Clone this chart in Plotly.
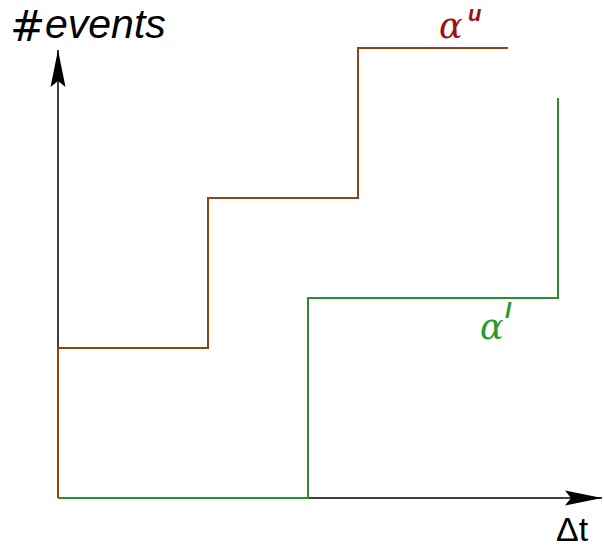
import plotly.graph_objects as go

# Staircase curves: upper (alpha^u) and lower (alpha^l) arrival bounds
upper_dt = [0, 0, 3, 3, 6, 6, 9]
upper_events = [0, 3, 3, 6, 6, 9, 9]
lower_dt = [0, 5, 5, 10, 10]
lower_events = [0, 0, 4, 4, 8]

x_axis_end = 10.88
y_axis_end = 8.96

BROWN = "#8B4513"
GREEN = "#2E8B2E"
RED_LABEL = "#A01010"
GREEN_LABEL = "#2A9A2A"
SANS = "Liberation Sans, Arial, sans-serif"
SERIF = "DejaVu Serif, serif"

fig = go.Figure()
fig.add_trace(go.Scatter(x=upper_dt, y=upper_events, mode="lines",
                         line=dict(color=BROWN, width=2), hoverinfo="skip"))
fig.add_trace(go.Scatter(x=lower_dt, y=lower_events, mode="lines",
                         line=dict(color=GREEN, width=2), hoverinfo="skip"))

# Coordinate axes: shafts plus slim notched arrowheads (pixel-sized paths)
HEAD_LEN, HEAD_HALF, NOTCH = 37, 7.5, 6
fig.add_shape(type="line", x0=0, y0=0, x1=x_axis_end, y1=0, xref="x", yref="y",
              line=dict(color="black", width=1.5), layer="below")
fig.add_shape(type="line", x0=0, y0=0, x1=0, y1=y_axis_end, xref="x", yref="y",
              line=dict(color="black", width=1.5), layer="below")
fig.add_shape(type="path", xref="x", yref="y", xsizemode="pixel", ysizemode="pixel",
              xanchor=x_axis_end, yanchor=0,
              path=f"M0,0 L{-HEAD_LEN},{HEAD_HALF} L{-HEAD_LEN + NOTCH},0 L{-HEAD_LEN},{-HEAD_HALF} Z",
              fillcolor="black", line=dict(width=0))
fig.add_shape(type="path", xref="x", yref="y", xsizemode="pixel", ysizemode="pixel",
              xanchor=0, yanchor=y_axis_end,
              path=f"M0,0 L{HEAD_HALF},{-HEAD_LEN} L0,{-HEAD_LEN + NOTCH} L{-HEAD_HALF},{-HEAD_LEN} Z",
              fillcolor="black", line=dict(width=0))

# Axis labels
fig.add_annotation(x=-0.61, y=9.44, text="#", showarrow=False,
                   xanchor="center", yanchor="middle",
                   font=dict(family="DejaVu Sans", size=42, color="black"))
fig.add_annotation(x=-0.3, y=9.49, text="<i>events</i>", showarrow=False,
                   xanchor="left", yanchor="middle",
                   font=dict(family=SANS, size=41, color="black"))
fig.add_annotation(x=10.29, y=-0.625, text="Δt", showarrow=False,
                   xanchor="center", yanchor="middle", borderpad=0,
                   font=dict(family=SANS, size=34, color="black"))

# Curve labels
fig.add_annotation(x=7.85, y=9.44, text="<i>α</i>", showarrow=False,
                   xanchor="center", yanchor="middle",
                   font=dict(family=SERIF, size=35, color=RED_LABEL))
fig.add_annotation(x=8.33, y=9.70, text="<b><i>u</i></b>", showarrow=False,
                   xanchor="center", yanchor="middle", borderpad=0,
                   font=dict(family=SANS, size=22, color=RED_LABEL))
fig.add_annotation(x=8.67, y=3.42, text="<i>α</i>", showarrow=False,
                   xanchor="center", yanchor="middle",
                   font=dict(family=SERIF, size=35, color=GREEN_LABEL))
fig.add_annotation(x=9.01, y=3.76, text="<b><i>l</i></b>", showarrow=False,
                   xanchor="center", yanchor="middle",
                   font=dict(family=SANS, size=22, color=GREEN_LABEL))

fig.update_layout(
    width=604, height=550,
    margin=dict(l=0, r=0, t=0, b=0),
    paper_bgcolor="white", plot_bgcolor="white",
    showlegend=False,
    xaxis=dict(visible=False, range=[-1.16, 10.92]),
    yaxis=dict(visible=False, range=[-1.04, 9.96]),
)

fig.write_html("out.html")
